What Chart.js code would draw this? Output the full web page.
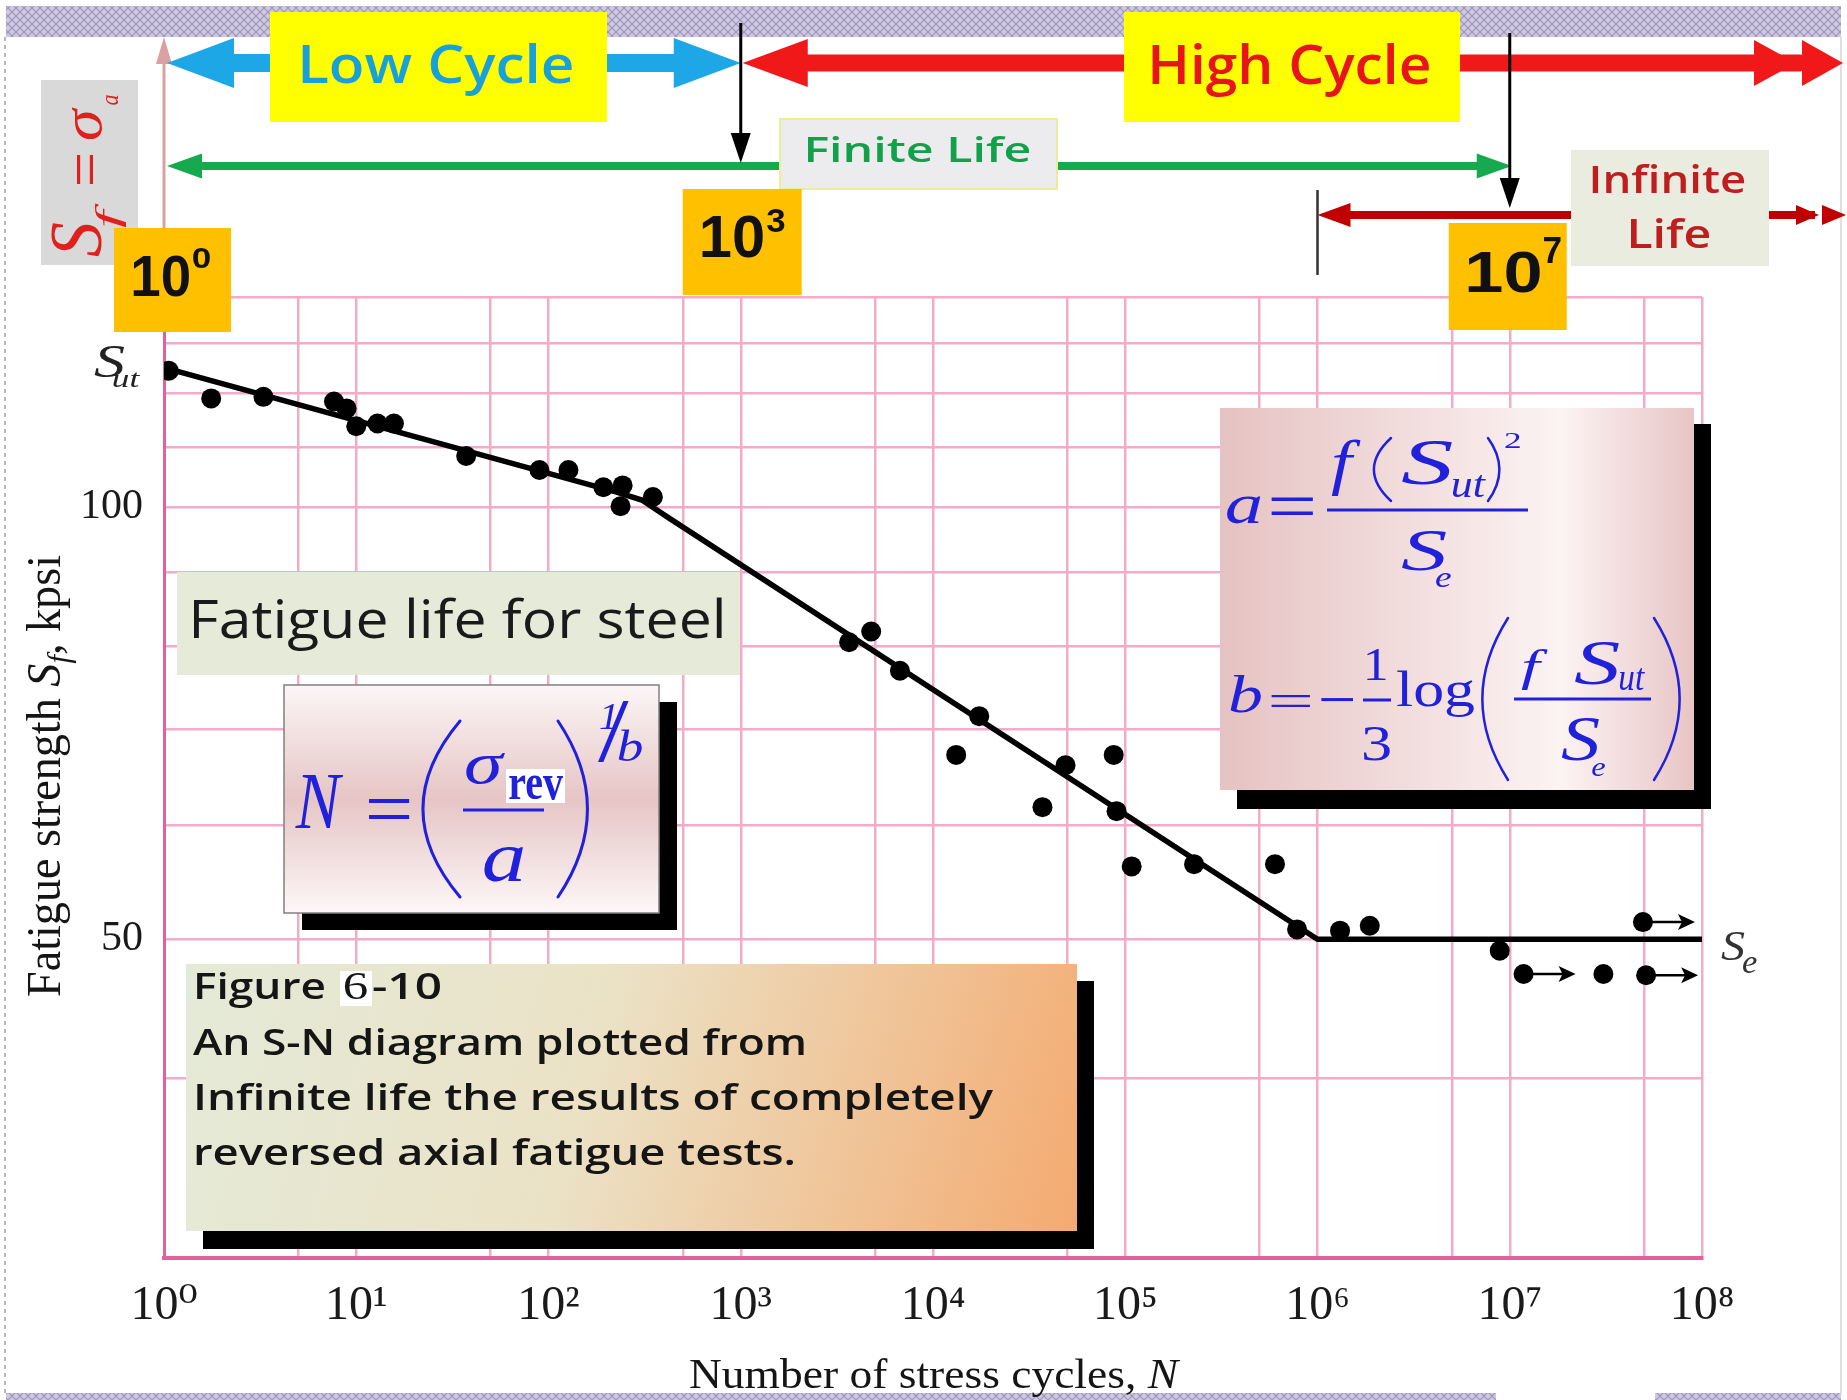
<!DOCTYPE html>
<html>
<head>
<meta charset="utf-8">
<title>S-N diagram – fatigue life for steel</title>
<script src="https://cdn.jsdelivr.net/npm/chart.js@4.4.1/dist/chart.umd.min.js"></script>
<style>
  html, body { margin: 0; padding: 0; background: #fff; overflow: hidden; }
  canvas { display: block; }
</style>
</head>
<body>
<canvas id="sn-chart" width="1847" height="1400"></canvas>
<script>

// Test results: cycles N, fatigue strength Sf (kpsi), run-out flag
const testCycles = [1.06, 1.76, 3.29, 7.66, 8.91, 10, 12.9, 15.7, 37.3, 89.7, 127, 193, 243, 237, 349,
	3660, 4770, 6730, 13200, 17400, 37100, 48900, 87100, 90100, 108000, 228000, 601000, 783000,
	1.31e6, 1.87e6, 8.87e6, 1.18e7, 3.07e7, 4.93e7, 5.12e7];
const testStrength = [124.4, 119.0, 119.3, 118.4, 117.1, 113.8, 114.3, 114.3, 108.5, 106.1, 106.1, 103.2, 103.5, 100.1, 101.6,
	80.5, 81.9, 76.9, 67.2, 71.5, 61.8, 66.1, 67.2, 61.4, 56.2, 56.4, 56.4, 50.8,
	50.7, 51.1, 49.1, 47.3, 47.3, 51.4, 47.2];
const testRunout = [false, false, false, false, false, false, false, false, false, false, false, false, false, false, false,
	false, false, false, false, false, false, false, false, false, false, false, false, false,
	false, false, false, true, false, true, true];

// Fitted S-N line (Sut at 10^0, endurance limit Se from 10^6)
const fitCycles = [1, 226, 306, 420, 1e6, 1e8];
const fitStrength = [125, 102.4, 101.1, 98.3, 50, 50];

// Axes
const xGridValues = [1, 5, 10, 50, 100, 500, 1e3, 5e3, 1e4, 5e4, 1e5, 5e5, 1e6, 5e6, 1e7, 5e7, 1e8];
const xTickLabels = ['10⁰', '10¹', '10²', '10³', '10⁴', '10⁵', '10⁶', '10⁷', '10⁸'];
const yGridValues = [30, 40, 50, 60, 70, 80, 90, 100, 110, 120, 130, 140];
const yLabelValues = [50, 100];

const SERIF = "'Liberation Serif', 'DejaVu Serif', serif";
const SANS = "'Open Sans', 'Noto Sans', 'DejaVu Sans', sans-serif";
const BLUE = '#2121dc';

/* Fit a string's ink into a box */
function inkText(ctx, str, x0, y0, x1, y1, font, color) {
	ctx.save();
	ctx.font = font;
	ctx.fillStyle = color;
	ctx.textAlign = 'left';
	ctx.textBaseline = 'alphabetic';
	const m = ctx.measureText(str);
	const w = m.actualBoundingBoxLeft + m.actualBoundingBoxRight;
	const h = m.actualBoundingBoxAscent + m.actualBoundingBoxDescent;
	ctx.translate(x0, y0);
	ctx.scale((x1 - x0) / w, (y1 - y0) / h);
	ctx.fillText(str, m.actualBoundingBoxLeft, m.actualBoundingBoxAscent);
	ctx.restore();
}

/* Same, but text reads bottom to top */
function inkTextUp(ctx, str, x0, y0, x1, y1, font, color) {
	ctx.save();
	ctx.font = font;
	ctx.fillStyle = color;
	ctx.textAlign = 'left';
	ctx.textBaseline = 'alphabetic';
	const m = ctx.measureText(str);
	const w = m.actualBoundingBoxLeft + m.actualBoundingBoxRight;
	const h = m.actualBoundingBoxAscent + m.actualBoundingBoxDescent;
	ctx.translate(x0, y1);
	ctx.rotate(-Math.PI / 2);
	ctx.scale((y1 - y0) / w, (x1 - x0) / h);
	ctx.fillText(str, m.actualBoundingBoxLeft, m.actualBoundingBoxAscent);
	ctx.restore();
}

/* Mixed-style line squeezed to a width, optionally rotated */
function richText(ctx, pieces, x, y, width, up) {
	ctx.save();
	ctx.textAlign = 'left';
	ctx.textBaseline = 'alphabetic';
	let total = 0;
	pieces.forEach(p => { ctx.font = p.font; p.w = ctx.measureText(p.t).width; total += p.w; });
	ctx.translate(x, y);
	if (up) ctx.rotate(-Math.PI / 2);
	ctx.scale(width / total, 1);
	let cx = 0;
	pieces.forEach(p => {
		ctx.font = p.font;
		ctx.fillStyle = p.color || '#151515';
		ctx.fillText(p.t, cx, p.dy || 0);
		cx += p.w;
	});
	ctx.restore();
}

function rect(ctx, x0, y0, x1, y1, fill) {
	ctx.fillStyle = fill;
	ctx.fillRect(x0, y0, x1 - x0, y1 - y0);
}

function shaft(ctx, xa, xb, y, w, color, cap) {
	ctx.strokeStyle = color;
	ctx.lineWidth = w;
	ctx.lineCap = cap || 'butt';
	ctx.beginPath();
	ctx.moveTo(xa, y);
	ctx.lineTo(xb, y);
	ctx.stroke();
}

// dir: 1 points right, -1 points left
function head(ctx, tipX, y, len, half, dir, color) {
	ctx.fillStyle = color;
	ctx.beginPath();
	ctx.moveTo(tipX, y);
	ctx.lineTo(tipX - dir * len, y - half);
	ctx.lineTo(tipX - dir * len, y + half);
	ctx.closePath();
	ctx.fill();
}

function downArrow(ctx, x, yTop, yTip, color) {
	ctx.strokeStyle = color;
	ctx.lineWidth = 3;
	ctx.lineCap = 'butt';
	ctx.beginPath();
	ctx.moveTo(x, yTop);
	ctx.lineTo(x, yTip - 25);
	ctx.stroke();
	ctx.fillStyle = color;
	ctx.beginPath();
	ctx.moveTo(x, yTip);
	ctx.lineTo(x - 10, yTip - 30);
	ctx.lineTo(x + 10, yTip - 30);
	ctx.closePath();
	ctx.fill();
}

// thin stretched delimiters for the formulas
function paren(ctx, x0, y0, x1, y1, open, lw) {
	ctx.strokeStyle = BLUE;
	ctx.lineWidth = lw;
	ctx.lineCap = 'round';
	ctx.beginPath();
	if (open) {
		ctx.moveTo(x1, y0);
		ctx.quadraticCurveTo(x0 - (x1 - x0) * 0.9, (y0 + y1) / 2, x1, y1);
	} else {
		ctx.moveTo(x0, y0);
		ctx.quadraticCurveTo(x1 + (x1 - x0) * 0.9, (y0 + y1) / 2, x0, y1);
	}
	ctx.stroke();
}

function hatchPattern(ctx) {
	const c = document.createElement('canvas');
	c.width = 8;
	c.height = 8;
	const g = c.getContext('2d');
	g.fillStyle = '#cfc9e0';
	g.fillRect(0, 0, 8, 8);
	g.strokeStyle = '#9d95bf';
	g.lineWidth = 1.2;
	g.beginPath();
	g.moveTo(0, 0); g.lineTo(8, 8);
	g.moveTo(8, 0); g.lineTo(0, 8);
	g.stroke();
	return ctx.createPattern(c, 'repeat');
}

const overlayPlugin = {
	id: 'slideOverlay',
	beforeDraw(chart) {
		const ctx = chart.ctx;
		ctx.save();
		rect(ctx, 0, 0, chart.width, chart.height, '#ffffff');
		// slide frame
		ctx.strokeStyle = '#a0a0a0';
		ctx.lineWidth = 1.5;
		ctx.setLineDash([4, 4]);
		ctx.beginPath(); ctx.moveTo(5, 37); ctx.lineTo(5, 1393); ctx.stroke();
		ctx.setLineDash([]);
		ctx.strokeStyle = '#d4d4d4';
		ctx.beginPath(); ctx.moveTo(1841, 37); ctx.lineTo(1841, 1393); ctx.stroke();
		ctx.restore();
	},
	afterDatasetsDraw(chart) {
		// run-out arrows on the unbroken specimens
		const ctx = chart.ctx;
		const meta = chart.getDatasetMeta(1);
		ctx.save();
		meta.data.forEach((pt, i) => {
			if (!testRunout[i]) return;
			const x = pt.x, y = pt.y;
			ctx.strokeStyle = '#000';
			ctx.lineWidth = 2.5;
			ctx.beginPath(); ctx.moveTo(x + 9, y); ctx.lineTo(x + 42, y); ctx.stroke();
			ctx.fillStyle = '#000';
			ctx.beginPath();
			ctx.moveTo(x + 52, y);
			ctx.lineTo(x + 35, y - 8);
			ctx.lineTo(x + 39, y);
			ctx.lineTo(x + 35, y + 8);
			ctx.closePath();
			ctx.fill();
		});
		ctx.restore();
	},
	afterDraw(chart) {
		const ctx = chart.ctx;
		const X = v => chart.scales.x.getPixelForValue(v);
		const Y = v => chart.scales.y.getPixelForValue(v);
		const x0 = X(1), x3 = X(1e3), x6 = X(1e6), x7 = X(1e7);
		const top = chart.chartArea.top, right = chart.chartArea.right;
		ctx.save();

		// top and bottom hatched bands of the slide
		const pat = hatchPattern(ctx);
		rect(ctx, 6, 6, 1841, 37, pat);
		rect(ctx, 6, 1393, 1496, 1400, pat);
		rect(ctx, 1655, 1393, 1841, 1400, pat);

		// stress axis carried up with an arrow
		ctx.strokeStyle = '#d9a1a1';
		ctx.lineWidth = 3;
		ctx.beginPath(); ctx.moveTo(x0, top); ctx.lineTo(x0, 60); ctx.stroke();
		ctx.fillStyle = '#d9a1a1';
		ctx.beginPath(); ctx.moveTo(x0, 37); ctx.lineTo(x0 - 8, 64); ctx.lineTo(x0 + 8, 64); ctx.closePath(); ctx.fill();

		// Low cycle / High cycle bands
		const ay = 63;
		const cBlue = '#1ea7e6', cRed = '#f01818';
		shaft(ctx, x0 + 60, 276, ay, 18, cBlue, 'round');
		head(ctx, x0 + 3, ay, 67, 25, -1, cBlue);
		shaft(ctx, 603, x3 - 60, ay, 18, cBlue, 'round');
		head(ctx, x3, ay, 67, 25, 1, cBlue);
		shaft(ctx, x3 + 60, 1128, ay, 17, cRed, 'round');
		head(ctx, x3 + 2, ay, 65, 24, -1, cRed);
		shaft(ctx, 1456, 1800, ay, 17, cRed, 'round');
		head(ctx, 1796, ay, 42, 23, 1, cRed);
		head(ctx, 1843, ay, 41, 23, 1, cRed);
		rect(ctx, 270, 12, 607, 122, '#ffff00');
		rect(ctx, 1124, 12, 1460, 122, '#ffff00');
		inkText(ctx, 'Low Cycle', 302, 43, 572, 95, `600 60px ${SANS}`, '#18a0da');
		inkText(ctx, 'High Cycle', 1152, 43, 1429, 97, `600 60px ${SANS}`, '#e8141c');

		// Finite life arrow
		const gy = 166, cGreen = '#17a94e';
		shaft(ctx, x0 + 30, 782, gy, 8, cGreen);
		head(ctx, x0 + 3, gy, 35, 12.5, -1, cGreen);
		shaft(ctx, 1055, x7 - 30, gy, 8, cGreen);
		head(ctx, x7 + 2, gy, 35, 12.5, 1, cGreen);
		rect(ctx, 780, 119, 1057, 189, '#ececee');
		ctx.strokeStyle = '#ecec9a';
		ctx.lineWidth = 2;
		ctx.strokeRect(780, 119, 277, 70);
		inkText(ctx, 'Finite Life', 807, 136, 1030, 162, `600 40px ${SANS}`, '#12a04a');

		// Infinite life arrow
		const ry = 215, cDark = '#c00000';
		ctx.strokeStyle = '#333';
		ctx.lineWidth = 2.5;
		ctx.beginPath(); ctx.moveTo(x6, 190); ctx.lineTo(x6, 275); ctx.stroke();
		shaft(ctx, x6 + 25, 1573, ry, 8, cDark);
		head(ctx, x6, ry, 33, 12, -1, cDark);
		shaft(ctx, 1767, 1815, ry, 8, cDark);
		head(ctx, 1819, ry, 23, 10, 1, cDark);
		head(ctx, 1846, ry, 24, 10, 1, cDark);
		rect(ctx, 1571, 150, 1769, 266, '#e9ecdf');
		inkText(ctx, 'Infinite', 1592, 164, 1745, 193, `600 40px ${SANS}`, '#be1e1e');
		inkText(ctx, 'Life', 1630, 218, 1710, 248, `600 40px ${SANS}`, '#be1e1e');

		// Sf = σa label
		rect(ctx, 41, 80, 138, 265, '#d9d9d9');
		const cSig = '#e0201c';
		inkTextUp(ctx, 'S', 53, 222, 102, 257, `italic 60px ${SERIF}`, cSig);
		inkTextUp(ctx, 'f', 96, 203, 127, 228, `italic 40px ${SERIF}`, cSig);
		inkTextUp(ctx, '=', 77, 155, 93, 185, `60px ${SERIF}`, cSig);
		inkTextUp(ctx, 'σ', 72, 107, 102, 140, `italic 60px ${SERIF}`, cSig);
		inkTextUp(ctx, 'a', 105, 95, 118, 105, `italic 40px ${SERIF}`, cSig);

		// markers at 10^3 and 10^7
		downArrow(ctx, x3, 23, 163, '#000');
		downArrow(ctx, x7, 33, 208, '#000');

		// orange decade tags
		const orange = '#ffc000', tagFont = `bold 60px 'Liberation Sans', Arial, sans-serif`;
		rect(ctx, x0 - 50, 228, x0 + 67, 332, orange);
		inkText(ctx, '10', x0 - 31, 256, x0 + 25, 297, tagFont, '#111');
		inkText(ctx, '0', x0 + 29, 247, x0 + 46, 268, tagFont, '#111');
		rect(ctx, x3 - 58, 189, x3 + 61, 295, orange);
		inkText(ctx, '10', x3 - 39, 215, x3 + 22, 258, tagFont, '#111');
		inkText(ctx, '3', x3 + 26, 209, x3 + 44, 233, tagFont, '#111');
		rect(ctx, x7 - 61, 223, x7 + 57, 330, orange);
		inkText(ctx, '10', x7 - 42, 252, x7 + 30, 293, tagFont, '#111');
		inkText(ctx, '7', x7 + 34, 238, x7 + 51, 263, tagFont, '#111');

		// "Fatigue life for steel"
		rect(ctx, 177, 572, 740, 675, '#e5ebd8');
		inkText(ctx, 'Fatigue life for steel', 194, 597, 722, 650, `52px ${SANS}`, '#1a1a1a');

		// N = (σrev / a)^(1/b)
		rect(ctx, 302, 702, 677, 930, '#000');
		let gr = ctx.createLinearGradient(0, 685, 0, 913);
		gr.addColorStop(0, '#fcf6f6');
		gr.addColorStop(0.5, '#e6c5c5');
		gr.addColorStop(1, '#fdf7f7');
		rect(ctx, 284, 685, 659, 913, gr);
		ctx.strokeStyle = '#808080';
		ctx.lineWidth = 1.5;
		ctx.strokeRect(284, 685, 375, 228);
		const fI = `italic 80px ${SERIF}`, fR = `80px ${SERIF}`;
		inkText(ctx, 'N', 295, 775, 344, 828, fI, BLUE);
		inkText(ctx, '=', 368, 798, 410, 819, fR, BLUE);
		paren(ctx, 421, 721, 460, 897, true, 3);
		inkText(ctx, 'σ', 466, 752, 505, 784, fI, BLUE);
		rect(ctx, 506, 769, 565, 803, '#ffffff');
		inkText(ctx, 'rev', 509, 776, 563, 800, `bold 60px ${SERIF}`, BLUE);
		rect(ctx, 463, 808.5, 544, 811.5, BLUE);
		inkText(ctx, 'a', 484, 847, 523, 882, fI, BLUE);
		paren(ctx, 558, 721, 589, 897, false, 3);
		inkText(ctx, '1', 600, 704, 615, 729, `italic 40px ${SERIF}`, BLUE);
		inkText(ctx, '/', 598, 702, 631, 761, `40px ${SERIF}`, BLUE);
		inkText(ctx, 'b', 618, 729, 642, 761, `italic 40px ${SERIF}`, BLUE);

		// a = f(Sut)^2 / Se ,  b = -1/3 log(f Sut / Se)
		rect(ctx, 1237, 424, 1711, 809, '#000');
		gr = ctx.createLinearGradient(1220, 0, 1694, 0);
		gr.addColorStop(0, '#e6c2c2');
		gr.addColorStop(0.72, '#fcf3f3');
		gr.addColorStop(1, '#e8c5c5');
		rect(ctx, 1220, 408, 1694, 790, gr);
		const fI7 = `italic 70px ${SERIF}`, fR7 = `70px ${SERIF}`, fS = `italic 40px ${SERIF}`;
		inkText(ctx, 'a', 1227, 496, 1261, 524, fI7, BLUE);
		inkText(ctx, '=', 1271, 497, 1314, 515, fR7, BLUE);
		inkText(ctx, 'f', 1331, 440, 1361, 496, fI7, BLUE);
		paren(ctx, 1373, 438, 1391, 501, true, 2.5);
		inkText(ctx, 'S', 1401, 440, 1452, 485, fI7, BLUE);
		inkText(ctx, 'ut', 1453, 475, 1486, 497, fS, BLUE);
		paren(ctx, 1488, 438, 1500, 501, false, 2.5);
		inkText(ctx, '2', 1505, 433, 1520, 448, `40px ${SERIF}`, BLUE);
		rect(ctx, 1327, 508.5, 1528, 511.5, BLUE);
		inkText(ctx, 'S', 1401, 531, 1446, 571, fI7, BLUE);
		inkText(ctx, 'e', 1436, 572, 1451, 587, fS, BLUE);

		inkText(ctx, 'b', 1230, 675, 1261, 713, fI7, BLUE);
		inkText(ctx, '=', 1271, 694, 1311, 706, fR7, BLUE);
		inkText(ctx, '−', 1321, 698.5, 1354, 702, fR7, BLUE);
		inkText(ctx, '1', 1367, 650, 1386, 680, `60px ${SERIF}`, BLUE);
		rect(ctx, 1363, 698.5, 1391, 701.5, BLUE);
		inkText(ctx, '3', 1363, 727, 1390, 761, `60px ${SERIF}`, BLUE);
		inkText(ctx, 'log', 1397, 671, 1474, 717, `60px ${SERIF}`, BLUE);
		paren(ctx, 1481, 618, 1508, 780, true, 2.5);
		inkText(ctx, 'f', 1521, 650, 1548, 690, fI7, BLUE);
		inkText(ctx, 'S', 1574, 641, 1619, 685, fI7, BLUE);
		inkText(ctx, 'ut', 1620, 668, 1645, 690, fS, BLUE);
		rect(ctx, 1514, 697.5, 1651, 700.5, BLUE);
		inkText(ctx, 'S', 1561, 717, 1599, 761, fI7, BLUE);
		inkText(ctx, 'e', 1592, 762, 1605, 776, fS, BLUE);
		paren(ctx, 1654, 618, 1681, 780, false, 2.5);

		// caption
		rect(ctx, 203, 981, 1094, 1249, '#000');
		gr = ctx.createLinearGradient(186, 964, 1077, 1231);
		gr.addColorStop(0, '#e4ead8');
		gr.addColorStop(0.45, '#ebe2c6');
		gr.addColorStop(1, '#f4aa70');
		rect(ctx, 186, 964, 1077, 1231, gr);
		const fCap = `600 36px ${SANS}`;
		richText(ctx, [{ t: 'Figure', font: fCap }], 193, 999, 133);
		rect(ctx, 340, 971, 372, 1006, '#ffffff');
		inkText(ctx, '6', 344, 973, 367, 999, `40px ${SERIF}`, '#151515');
		richText(ctx, [{ t: '-10', font: fCap }], 372, 999, 70);
		richText(ctx, [{ t: 'An S-N diagram plotted from', font: fCap }], 193, 1055, 614);
		richText(ctx, [{ t: 'Infinite life the results of completely', font: fCap }], 193, 1110, 800);
		richText(ctx, [{ t: 'reversed axial fatigue tests.', font: fCap }], 193, 1165, 603);

		// Sut and Se marks on the axes
		const ySut = Y(fitStrength[0]);
		inkText(ctx, 'S', 94, ySut - 22, 125, ySut + 9, `italic 46px ${SERIF}`, '#222');
		inkText(ctx, 'ut', 113, ySut + 5, 140, ySut + 19, `italic 30px ${SERIF}`, '#222');
		const ySe = Y(fitStrength[fitStrength.length - 1]);
		inkText(ctx, 'S', right + 19, ySe - 8, right + 43, ySe + 21, `italic 46px ${SERIF}`, '#333');
		inkText(ctx, 'e', right + 40, ySe + 18, right + 55, ySe + 34, `italic 30px ${SERIF}`, '#333');

		// axis titles
		richText(ctx, [
			{ t: 'Fatigue strength ', font: `48px ${SERIF}` },
			{ t: 'S', font: `italic 48px ${SERIF}` },
			{ t: 'f', font: `italic 32px ${SERIF}`, dy: 9 },
			{ t: ', kpsi', font: `48px ${SERIF}` }
		], 60, 997, 442, true);
		richText(ctx, [
			{ t: 'Number of stress cycles, ', font: `42px ${SERIF}` },
			{ t: 'N', font: `italic 42px ${SERIF}` }
		], 689, 1388, 489);

		ctx.restore();
	}
};

const fitData = fitCycles.map((n, i) => ({ x: n, y: fitStrength[i] }));
const testData = testCycles.map((n, i) => ({ x: n, y: testStrength[i] }));

new Chart(document.getElementById('sn-chart').getContext('2d'), {
	type: 'scatter',
	data: {
		datasets: [{
			label: 'S-N line',
			data: fitData,
			showLine: true,
			borderColor: '#000',
			borderWidth: 5.5,
			pointRadius: 0,
			fill: false
		}, {
			label: 'Test data',
			data: testData,
			pointRadius: 10,
			pointBackgroundColor: '#000',
			pointBorderWidth: 0
		}]
	},
	options: {
		responsive: false,
		devicePixelRatio: 1,
		animation: false,
		events: [],
		layout: { padding: { top: 297, right: 145, left: 0, bottom: 0 } },
		plugins: {
			legend: { display: false },
			tooltip: { enabled: false }
		},
		scales: {
			x: {
				type: 'logarithmic',
				min: 1,
				max: 1e8,
				afterBuildTicks: axis => { axis.ticks = xGridValues.map(v => ({ value: v })); },
				afterFit: axis => { axis.height = 142; },
				grid: { color: '#f2abc8', lineWidth: 2.5, drawTicks: false },
				border: { color: '#e2609c', width: 4 },
				ticks: {
					autoSkip: false,
					maxRotation: 0,
					minRotation: 0,
					padding: 20,
					color: '#1a1a1a',
					font: { family: SERIF, size: 48 },
					callback: value => {
						const p = Math.log10(value);
						const r = Math.round(p);
						return Math.abs(p - r) < 1e-9 ? xTickLabels[r] : '';
					}
				}
			},
			y: {
				type: 'logarithmic',
				min: 30,
				max: 140,
				afterBuildTicks: axis => { axis.ticks = yGridValues.map(v => ({ value: v })); },
				afterFit: axis => { axis.width = 164; },
				grid: { color: '#f2abc8', lineWidth: 2.5, drawTicks: false },
				border: { color: '#e2609c', width: 3 },
				ticks: {
					autoSkip: false,
					padding: 21,
					color: '#1a1a1a',
					font: { family: SERIF, size: 42 },
					callback: value => yLabelValues.includes(value) ? String(value) : ''
				}
			}
		}
	},
	plugins: [overlayPlugin]
});
</script>
</body>
</html>
